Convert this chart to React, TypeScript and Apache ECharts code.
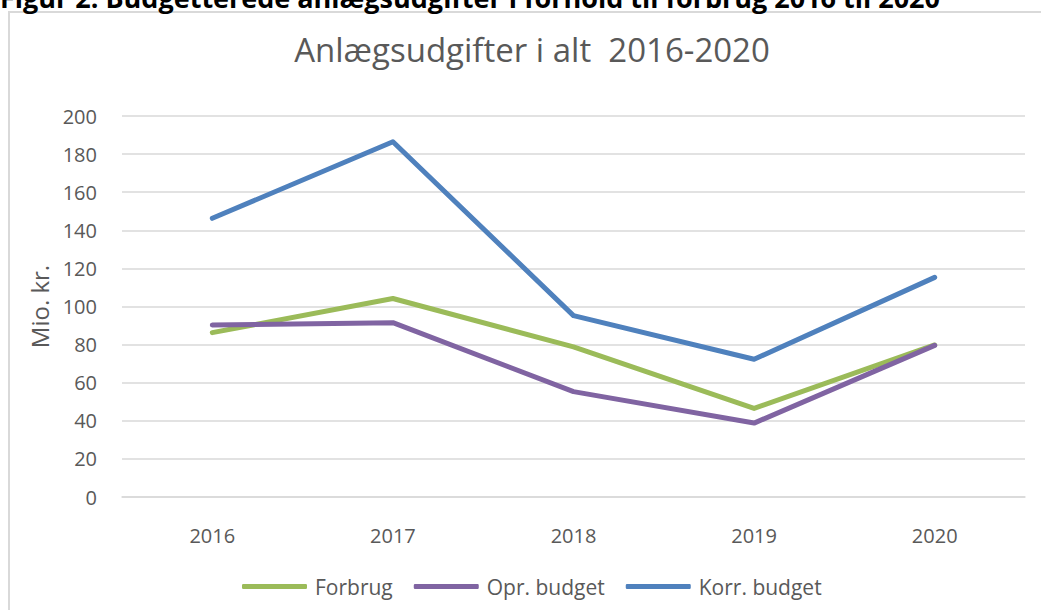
import React, { useEffect, useRef } from "react";
import * as echarts from "echarts";

const years = ["2016", "2017", "2018", "2019", "2020"];
const forbrug = [86.3, 104.2, 78.8, 46.5, 79.8];
const oprBudget = [90.3, 91.5, 55.3, 38.8, 79.6];
const korrBudget = [146.3, 186.5, 95.2, 72.3, 115.3];
const seriesNames = ["Forbrug", "Opr. budget", "Korr. budget"];
const colors = ["#9BBB59", "#8064A2", "#4F81BD"];

const FONT = "'Open Sans', sans-serif";

export default function App() {
  const ref = useRef<HTMLDivElement>(null);
  useEffect(() => {
    if (!ref.current) return;
    const chart = echarts.init(ref.current, null, { renderer: "svg" });
    const data = [forbrug, oprBudget, korrBudget];
    chart.setOption({
      animation: false,
      backgroundColor: "#ffffff",
      textStyle: { fontFamily: FONT },
      graphic: [
        {
          type: "rect",
          shape: { x: 9, y: 12, width: 1100, height: 700 },
          style: { fill: "none", stroke: "#D9D9D9", lineWidth: 2 },
          silent: true,
        },
        {
          type: "text",
          x: 0,
          y: -3,
          style: {
            text: "Figur 2: Budgetterede anlægsudgifter i forhold til forbrug 2016 til 2020",
            font: "bold 27px " + FONT,
            fill: "#000000",
            textAlign: "left",
            verticalAlign: "middle",
          },
        },
        {
          type: "text",
          x: 532,
          y: 49,
          style: {
            text: "Anlægsudgifter i alt  2016-2020",
            font: "33px " + FONT,
            fill: "#595959",
            textAlign: "center",
            verticalAlign: "middle",
          },
        },
      ],
      grid: { left: 122, right: 16, top: 116, bottom: 113, containLabel: false },
      legend: {
        left: 237,
        top: 571,
        icon: "roundRect",
        itemWidth: 65,
        itemHeight: 5,
        itemGap: 21,
        textStyle: { fontSize: 21, color: "#595959", fontFamily: FONT, padding: [0, 0, 0, 3] },
        data: seriesNames,
      },
      xAxis: {
        type: "category",
        data: years,
        boundaryGap: true,
        axisLine: { show: true, lineStyle: { color: "#D9D9D9", width: 1.5 } },
        axisTick: { show: false },
        axisLabel: { fontSize: 20, color: "#595959", margin: 28, fontFamily: FONT },
      },
      yAxis: {
        type: "value",
        min: 0,
        max: 200,
        interval: 20,
        name: "Mio. kr.",
        nameLocation: "middle",
        nameRotate: 90,
        nameGap: 70,
        nameTextStyle: { fontSize: 24, color: "#595959", fontFamily: FONT },
        axisLine: { show: false },
        axisTick: { show: false },
        axisLabel: { fontSize: 20, color: "#595959", margin: 25, fontFamily: FONT },
        splitLine: { lineStyle: { color: "#D9D9D9", width: 1.5 } },
      },
      series: seriesNames.map((name, i) => ({
        name,
        type: "line",
        data: data[i],
        symbol: "none",
        color: colors[i],
        lineStyle: { width: 5, color: colors[i], cap: "round", join: "round" },
      })),
    });
    return () => chart.dispose();
  }, []);
  return (
    <div
      ref={ref}
      style={{ position: "fixed", left: 0, top: 0, width: 1041, height: 610 }}
    />
  );
}
